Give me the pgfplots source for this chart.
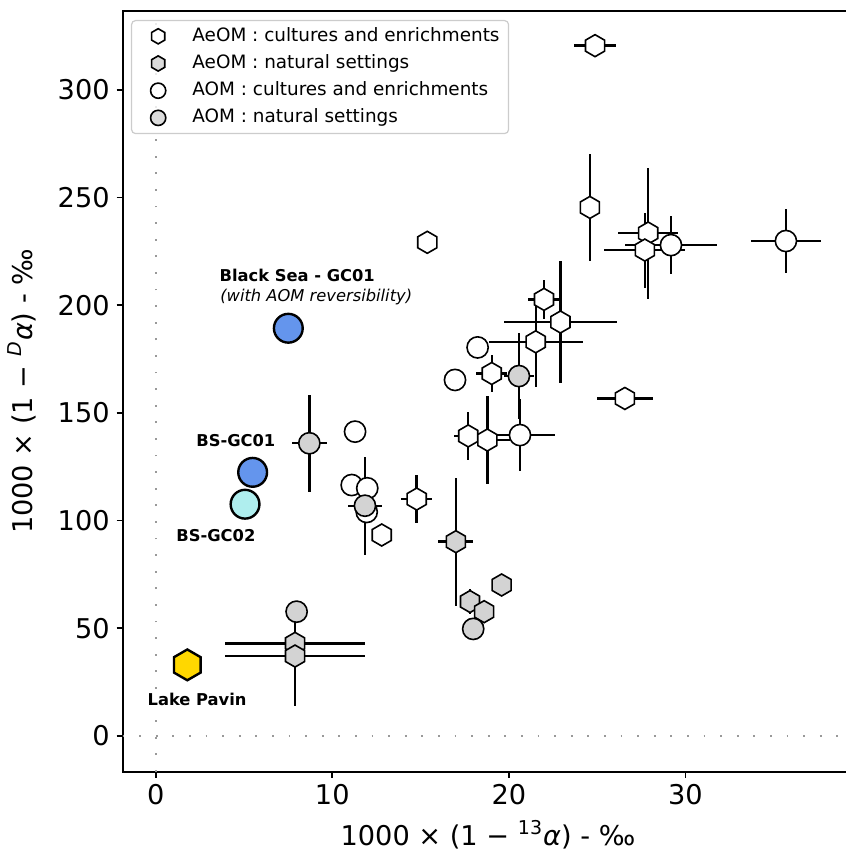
\documentclass[border=0pt]{standalone}
\usepackage{fontspec}
\setmainfont{DejaVu Sans}
\usepackage{pgfplots}
\pgfplotsset{compat=1.18}

\definecolor{natgray}{HTML}{D3D3D3}
\definecolor{bsblue}{HTML}{6495ED}
\definecolor{bscyan}{HTML}{AFEEEE}
\definecolor{pavin}{HTML}{FFD700}
\definecolor{refdots}{HTML}{999999}
\definecolor{legframe}{HTML}{CCCCCC}

% pointy-top hexagon, like matplotlib's 'h'
\pgfdeclareplotmark{hex}{%
  \pgfpathmoveto{\pgfpointpolar{90}{\pgfplotmarksize}}%
  \pgfpathlineto{\pgfpointpolar{150}{\pgfplotmarksize}}%
  \pgfpathlineto{\pgfpointpolar{210}{\pgfplotmarksize}}%
  \pgfpathlineto{\pgfpointpolar{270}{\pgfplotmarksize}}%
  \pgfpathlineto{\pgfpointpolar{330}{\pgfplotmarksize}}%
  \pgfpathlineto{\pgfpointpolar{30}{\pgfplotmarksize}}%
  \pgfpathclose
  \pgfusepathqfillstroke}

\pgfplotsset{
  errbars/.style={
    error bars/x dir=both, error bars/x explicit,
    error bars/y dir=both, error bars/y explicit,
    error bars/error mark=none,
    error bars/error bar style={line width=1.2pt,black}}}
\tikzset{annot/.style={font=\fontsize{8.15}{9}\selectfont\bfseries,anchor=west,inner sep=0pt}}

\begin{document}
\begin{tikzpicture}
\begin{axis}[
  scale only axis, width=365.3pt, height=380.4pt,
  xmin=-1.87, xmax=39.5, ymin=-16.6, ymax=336.6,
  xtick={0,10,20,30}, ytick={0,50,...,300},
  xtick pos=bottom, ytick pos=left, tick align=outside,
  major tick length=3pt,
  axis line style={line width=0.85pt},
  tick style={line width=0.85pt,black},
  tick label style={font=\fontsize{13.6}{16}\selectfont},
  /pgf/number format/assume math mode=true,
  label style={font=\fontsize{13.6}{16}\selectfont},
  xlabel={1000 × (1 − \textsuperscript{13}\textit{α}) - ‰},
  ylabel={1000 × (1 − \textsuperscript{\textit{D}}\textit{α}) - ‰},
  xlabel style={at={(axis description cs:0.5,-0.083)},anchor=center},
  ylabel style={at={(axis description cs:-0.1378,0.5)},anchor=center},
  legend style={at={(0.01136,0.98817)},anchor=north west,
    font=\fontsize{9.2}{11}\selectfont,
    draw=legframe, line width=0.6pt, rounded corners=2pt,
    fill=white, fill opacity=0.8, text opacity=1,
    inner xsep=4.5pt, inner ysep=3.5pt, row sep=4.9pt,
    nodes={inner sep=0pt, text height=6.8pt, text depth=1.9pt}},
  legend cell align=left,
  legend image code/.code={%
    \path (0pt,0pt) (25.35pt,0pt);
    \draw[#1, mark size=3.8pt] plot coordinates {(8.5pt,0pt)};},
]
% reference lines at zero
\addplot[refdots, line width=1pt, dash pattern=on 0.9pt off 7.4pt, forget plot]
  coordinates {(0,-16.6) (0,336.6)};
\addplot[refdots, line width=1pt, dash pattern=on 0.9pt off 7.4pt, forget plot]
  coordinates {(-1.87,0) (39.5,0)};

% AeOM : cultures and enrichments
\addplot[only marks, mark=hex, mark size=5.5pt,
  mark options={solid, fill=white, draw=black, line width=0.8pt}, errbars]
  table[x=x, y=y, x error=ex, y error=ey] {
x     y     ex    ey
24.88 320.5 1.19  0
24.59 245.4 0     24.8
15.38 229.2 0     0
27.89 233.5 1.70  30.4
27.70 225.6 2.30  17.4
21.99 202.7 0.93  9.0
22.92 192.2 3.19  28.3
21.52 183.0 2.66  20.9
19.03 168.3 0.87  8.5
26.57 156.7 1.59  0
17.70 139.3 0.80  11.2
18.78 137.4 1.30  20.4
14.78 110.0 0.88  11.2
12.80 93.3  0     0
};
% AeOM : natural settings
\addplot[only marks, mark=hex, mark size=5.5pt,
  mark options={solid, fill=natgray, draw=black, line width=0.8pt}, errbars]
  table[x=x, y=y, x error=ex, y error=ey] {
x     y     ex    ey
17.00 90.2  0.99  29.8
19.59 70.1  0     0
17.80 62.4  0     6.0
18.60 57.7  0     0
7.89  43.0  3.96  15.0
7.89  37.1  3.96  23.0
};
% AOM : cultures and enrichments
\addplot[only marks, mark=*, mark size=5.3pt,
  mark options={solid, fill=white, draw=black, line width=0.8pt}, errbars]
  table[x=x, y=y, x error=ex, y error=ey] {
x     y     ex    ey
29.18 227.9 2.59  13.5
35.69 229.8 1.98  14.9
18.23 180.4 0     0
16.95 165.3 0     0
20.63 139.7 2.00  16.6
11.29 141.3 0     4.0
11.10 116.5 0     0
11.98 115.0 0     0
11.95 104.0 0     0
};
% AOM : natural settings
\addplot[only marks, mark=*, mark size=5.3pt,
  mark options={solid, fill=natgray, draw=black, line width=0.8pt}, errbars]
  table[x=x, y=y, x error=ex, y error=ey] {
x     y     ex    ey
20.57 167.1 0.85  19.8
8.70  135.9 0.99  22.6
11.85 106.9 0.97  22.8
17.98 49.7  0     0
7.98  57.7  0     0
};
\legend{AeOM : cultures and enrichments, AeOM : natural settings,
  AOM : cultures and enrichments, AOM : natural settings}

% highlighted sites
\addplot[only marks, mark=*, mark size=7.2pt, forget plot,
  mark options={fill=bsblue, draw=black, line width=1.2pt}]
  coordinates {(7.51,189.3) (5.49,122.4)};
\addplot[only marks, mark=*, mark size=7.2pt, forget plot,
  mark options={fill=bscyan, draw=black, line width=1.2pt}]
  coordinates {(5.06,107.6)};
\addplot[only marks, mark=hex, mark size=7.7pt, forget plot,
  mark options={fill=pavin, draw=black, line width=1.2pt}]
  coordinates {(1.79,33.0)};

\node[annot] at (axis cs:3.60,213.6) {Black Sea - GC01};
\node[annot, font=\fontsize{8.15}{9}\selectfont\itshape] at (axis cs:3.64,203.7) {(with AOM reversibility)};
\node[annot] at (axis cs:2.28,137.0) {BS-GC01};
\node[annot] at (axis cs:1.15,92.9) {BS-GC02};
\node[annot] at (axis cs:-0.48,17.0) {Lake Pavin};
\end{axis}
\pgfresetboundingbox
\path[use as bounding box]
  ([xshift=-61.35pt,yshift=-40.65pt]current axis.south west)
  rectangle ([xshift=361.65pt,yshift=5.5pt]current axis.north west);
\end{tikzpicture}
\end{document}
